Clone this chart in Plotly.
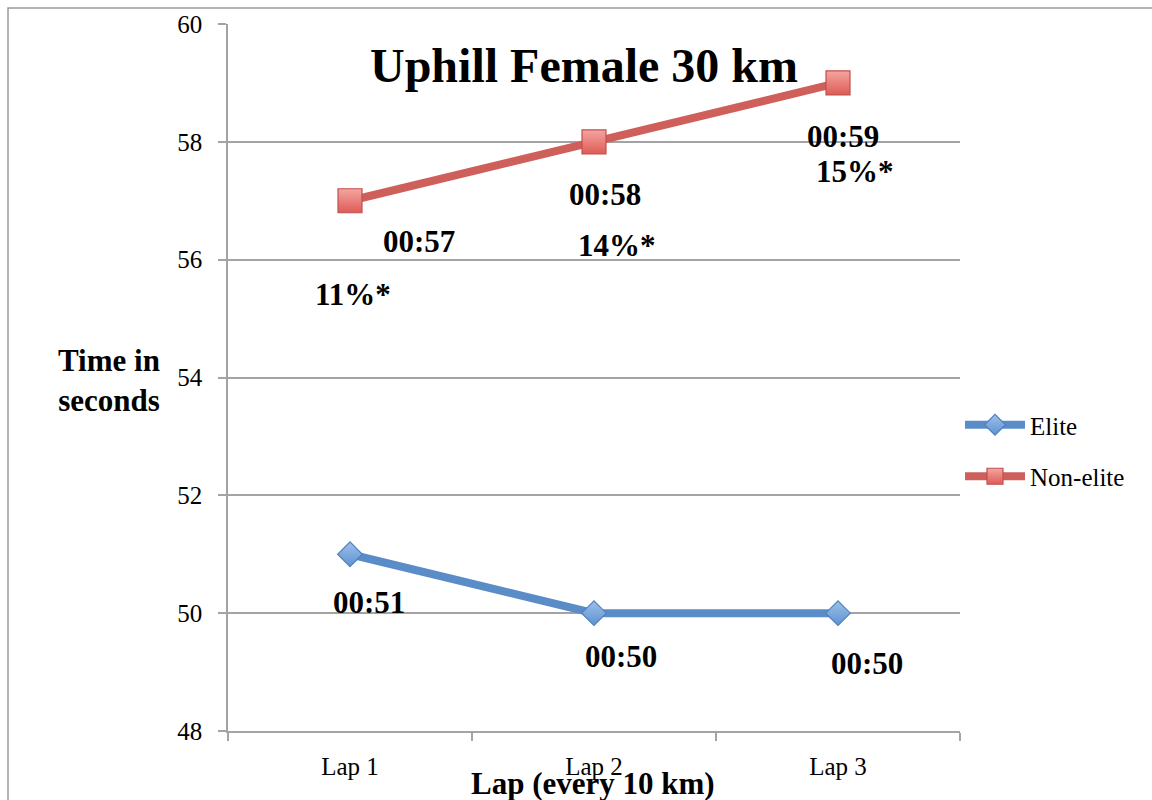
import plotly.graph_objects as go

# ---- data ----
laps = ["Lap 1", "Lap 2", "Lap 3"]
elite = [51, 50, 50]
non_elite = [57, 58, 59]
non_elite_pct = ["11%*", "14%*", "15%*"]
y_ticks = [48, 50, 52, 54, 56, 58, 60]

# ---- styles / label offsets (px) ----
FONT = "Liberation Serif"
GRID = "#A3A3A3"
elite_off = [(19, -48), (27, -43), (29, -50)]
ne_time_off = [(69, -41), (11, -53), (5, -54)]
ne_pct_off = [(3, -94), (23, -104), (17, -89)]

L, R, T, B = 228, 192, 24, 69
W, H = 1152, 800
PW, PH = W - L - R, H - T - B


def px_x(x):
    return (x - L) / PW


def px_y(y):
    return (H - B - y) / PH


fig = go.Figure()
fig.add_trace(go.Scatter(
    x=laps, y=elite, name="Elite", mode="lines+markers", legendgroup="e",
    line=dict(color="#5A8CC8", width=8),
    marker=dict(symbol="diamond", size=19, color="#9DC0EA",
                line=dict(color="#4F81BD", width=1.2),
                gradient=dict(type="vertical", color="#5E92D2")),
))
fig.add_trace(go.Scatter(
    x=laps, y=non_elite, name="Non-elite", mode="lines+markers", legendgroup="n",
    line=dict(color="#CF5F5A", width=8),
    marker=dict(symbol="square", size=24, color="#F5A5A1",
                line=dict(color="#C0504D", width=1.2),
                gradient=dict(type="vertical", color="#DE5B55")),
))

ann = []
lab_font = dict(family=FONT, size=31, color="black", weight="bold")
for lap, v, (dx, dy) in zip(laps, elite, elite_off):
    ann.append(dict(x=lap, y=v, xref="x", yref="y", text=f"00:{v:02d}", showarrow=False,
                    xshift=dx, yshift=dy, font=lab_font, xanchor="center", yanchor="middle"))
for lap, v, (dx, dy) in zip(laps, non_elite, ne_time_off):
    ann.append(dict(x=lap, y=v, xref="x", yref="y", text=f"00:{v:02d}", showarrow=False,
                    xshift=dx, yshift=dy, font=lab_font, xanchor="center", yanchor="middle"))
for lap, v, p, (dx, dy) in zip(laps, non_elite, non_elite_pct, ne_pct_off):
    ann.append(dict(x=lap, y=v, xref="x", yref="y", text=p, showarrow=False,
                    xshift=dx, yshift=dy, font=lab_font, xanchor="center", yanchor="middle"))

# axis titles
ann.append(dict(x=px_x(109), y=px_y(380), xref="paper", yref="paper",
                text="Time in<br>seconds", showarrow=False, align="center",
                xanchor="center", yanchor="middle",
                font=dict(family=FONT, size=31, color="black", weight="bold")))
ann.append(dict(x=px_x(593), y=px_y(783), xref="paper", yref="paper",
                text="Lap (every 10 km)", showarrow=False,
                xanchor="center", yanchor="middle",
                font=dict(family=FONT, size=31, color="black", weight="bold")))

fig.update_layout(
    width=W, height=H, autosize=False,
    margin=dict(l=L, r=R, t=T, b=B, pad=0),
    paper_bgcolor="white", plot_bgcolor="white",
    title=dict(text="Uphill Female 30 km", x=584 / W, xanchor="center", xref="container",
               y=1 - 65 / H, yanchor="middle", yref="container",
               font=dict(family=FONT, size=48, color="black", weight="bold")),
    xaxis=dict(type="category", categoryarray=laps, range=[-0.5, 2.5],
               tickson="boundaries", ticks="outside", ticklen=8, tickcolor=GRID, tickwidth=1.5,
               showgrid=False, showline=True, linecolor=GRID, linewidth=1.5,
               tickfont=dict(family=FONT, size=25, color="black"),
               ticklabelstandoff=12, zeroline=False),
    yaxis=dict(range=[48, 60], tickvals=y_ticks, ticks="outside", ticklen=8,
               tickcolor=GRID, tickwidth=1.5, showgrid=True, gridcolor=GRID, gridwidth=1.5,
               showline=True, linecolor=GRID, linewidth=1.5, zeroline=False,
               tickfont=dict(family=FONT, size=25, color="black"),
               ticklabelstandoff=11),
    legend=dict(x=1.0, y=px_y(402), xanchor="left", yanchor="top",
                font=dict(family=FONT, size=25, color="black"),
                tracegroupgap=16, itemwidth=60, bgcolor="rgba(0,0,0,0)",
                traceorder="grouped"),
    annotations=ann,
    shapes=[dict(type="rect", xref="paper", yref="paper",
                 x0=px_x(8), x1=px_x(1200), y0=px_y(850), y1=px_y(8),
                 line=dict(color="#9A9A9A", width=1.5), fillcolor="rgba(0,0,0,0)",
                 layer="below")],
)

fig.write_html("out.html")
